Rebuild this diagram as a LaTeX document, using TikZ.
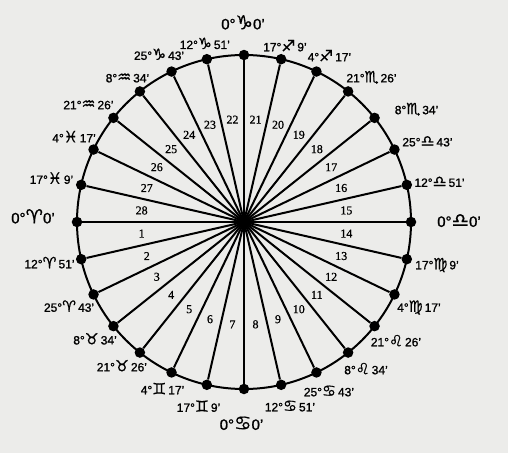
\documentclass[tikz,border=0pt]{standalone}
\usepackage{fontspec}
\setmainfont{Liberation Sans}[FakeBold=1.2]
\newfontfamily\signfont{DejaVu Sans}[Scale=1.3,FakeBold=0.6]
\newfontfamily\numfont{Liberation Serif}[FakeBold=0.8]
\usepackage{xcolor}
\definecolor{paper}{RGB}{236,236,234}
\usetikzlibrary{positioning,calc}

\begin{document}
\begin{tikzpicture}[
  spoke/.style={line width=2pt},
  rim/.style={line width=2pt},
  dot/.style={circle,fill=black,inner sep=0pt,minimum size=10.5pt},
  num/.style={font=\fontsize{12}{12}\selectfont\numfont,inner sep=0pt},
  lab/.style={font=\fontsize{12}{12}\selectfont,inner sep=0pt,
    text height=8.6pt,text depth=0pt},
  card/.style={font=\fontsize{15}{15}\selectfont,inner sep=0pt,
    text height=10.7pt,text depth=0pt}
]
\fill[paper] (-244pt,-231pt) rectangle (264pt,222pt);
\useasboundingbox (-244pt,-231pt) rectangle (264pt,222pt);
\coordinate (c) at (0,0);
\foreach \k in {0,...,27}
  \node[dot] (d\k) at ({180+\k*360/28}:167pt) {};
\foreach \k in {0,...,27}
  \draw[spoke] (c) -- (d\k);
\draw[rim] (c) circle[radius=167pt];
\foreach \n in {1,...,28}
  \node[num] (n\n) at ({180+(\n-0.5)*360/28}:103pt) {\n};
\foreach \k/\dx/\dy/\dg/\sg/\mn in {
    1/-31.7/-4.8/12/♈/51, 2/-24.5/-13/25/♈/43, 3/-18.4/-14/8/♉/34,
    4/-18/-14.5/21/♉/26, 5/-9/-17.5/4/♊/17, 6/-8.3/-22.7/17/♊/9,
    8/8.8/-22.2/12/♋/51, 9/12.5/-19.5/25/♋/43, 10/17.9/-17.4/8/♌/34,
    11/21.4/-15.9/21/♌/26, 12/24.5/-13/4/♍/17, 13/30.2/-5.8/17/♍/9,
    15/32.7/2.3/12/♎/51, 16/33/7.5/25/♎/43, 17/42/8/8/♏/34,
    18/23.4/13.4/21/♏/26, 19/13/14.5/4/♐/17, 20/3.8/12.2/17/♐/9,
    22/-2/14.5/12/♑/51, 23/-12.5/16/25/♑/43, 24/-12.4/13.4/8/♒/34,
    25/-25/13/21/♒/26, 26/-19.5/11.5/4/♓/17, 27/-29.7/5.3/17/♓/9}
  \node[lab] (t\k) at ($(d\k)+(\dx pt,\dy pt)$) {\dg{}°{\signfont\sg}\,\mn'};
\foreach \k/\dx/\dy/\sg in {0/-44/4/♈, 7/-2.5/-35.5/♋, 14/48/0.5/♎, 21/-1/31/♑}
  \node[card] (t\k) at ($(d\k)+(\dx pt,\dy pt)$) {0°{\signfont\sg}0'};
\end{tikzpicture}
\end{document}
